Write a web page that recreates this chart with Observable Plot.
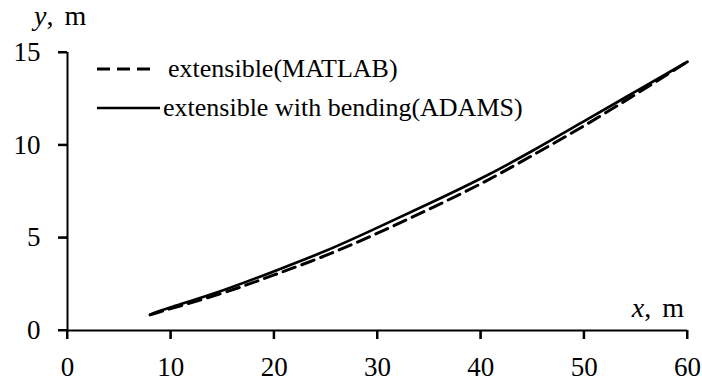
<!DOCTYPE html>
<html>
<head>
<meta charset="utf-8">
<script src="https://cdn.jsdelivr.net/npm/d3@7"></script>
<script src="https://cdn.jsdelivr.net/npm/@observablehq/plot@0.6"></script>
<style>
  html, body { margin: 0; padding: 0; background: white; }
</style>
</head>
<body>
<div id="chart"></div>
<script>
const xValues = [8, 10, 15, 20, 25, 30, 35, 40, 45, 50, 55, 60];
const matlabY = [0.84, 1.18, 2.02, 3.0, 4.05, 5.25, 6.55, 7.92, 9.45, 11.05, 12.75, 14.5];
const adamsY  = [0.86, 1.25, 2.16, 3.2, 4.3, 5.55, 6.85, 8.2, 9.7, 11.3, 12.9, 14.5];
const xTicks = [0, 10, 20, 30, 40, 50, 60];
const yTicks = [0, 5, 10, 15];
const seriesNames = ["extensible(MATLAB)", "extensible with bending(ADAMS)"];

const matlab = xValues.map((x, i) => ({x, y: matlabY[i]}));
const adams = xValues.map((x, i) => ({x, y: adamsY[i]}));

const font = "'Liberation Serif', 'Times New Roman', serif";

const plot = Plot.plot({
  width: 702,
  height: 381,
  marginLeft: 67,
  marginRight: 15,
  marginTop: 52,
  marginBottom: 51,
  x: {domain: [0, 60]},
  y: {domain: [0, 15]},
  style: {fontFamily: font, fontSize: "27px", color: "black", background: "white"},
  marks: [
    Plot.axisX({ticks: xTicks, tickSize: 9, tickPadding: 17, label: null, fontSize: 27, strokeWidth: 2}),
    Plot.axisY({ticks: yTicks, tickSize: 9, tickPadding: 18, label: null, fontSize: 27, strokeWidth: 2}),
    Plot.ruleY([0], {strokeWidth: 2}),
    Plot.ruleX([0], {strokeWidth: 2}),
    Plot.line(matlab, {x: "x", y: "y", curve: "natural", stroke: "black", strokeWidth: 3, strokeDasharray: "13,7"}),
    Plot.line(adams, {x: "x", y: "y", curve: "natural", stroke: "black", strokeWidth: 2.7})
  ]
});

document.getElementById("chart").appendChild(plot);

const svg = d3.select(plot);
const sx = plot.scale("x"), sy = plot.scale("y");
const x0 = sx.apply(0), y0 = sy.apply(0);

// tick marks drawn from the scales (2px, matching the axis lines)
const ticks = svg.append("g").attr("stroke", "black").attr("stroke-width", 2);
xTicks.forEach(t => {
  ticks.append("line").attr("x1", sx.apply(t)).attr("x2", sx.apply(t))
    .attr("y1", y0).attr("y2", y0 + 9);
});
yTicks.forEach(t => {
  ticks.append("line").attr("x1", x0 - 9).attr("x2", x0)
    .attr("y1", sy.apply(t)).attr("y2", sy.apply(t));
});

// axis labels
const yl = svg.append("text")
  .attr("x", x0 - 33).attr("y", sy.apply(15) - 27)
  .attr("text-anchor", "start")
  .attr("font-family", font).attr("font-size", 28).attr("fill", "black");
yl.append("tspan").attr("font-style", "italic").text("y");
yl.append("tspan").text(",");
yl.append("tspan").attr("dx", 11).text("m");

const xl = svg.append("text")
  .attr("x", sx.apply(60) - 3).attr("y", y0 - 13)
  .attr("text-anchor", "end")
  .attr("font-family", font).attr("font-size", 28).attr("fill", "black");
xl.append("tspan").attr("font-style", "italic").text("x");
xl.append("tspan").text(",");
xl.append("tspan").attr("dx", 11).text("m");

// legend
const lx = x0 + 30;
const legendRows = [
  {name: seriesNames[0], y: 69, dash: "13,7", w: 3, len: 53, tx: 168},
  {name: seriesNames[1], y: 108, dash: null, w: 2.5, len: 63, tx: 163}
];
legendRows.forEach(r => {
  const ln = svg.append("line")
    .attr("x1", lx).attr("x2", lx + r.len)
    .attr("y1", r.y).attr("y2", r.y)
    .attr("stroke", "black").attr("stroke-width", r.w);
  if (r.dash) ln.attr("stroke-dasharray", r.dash);
  svg.append("text")
    .attr("x", r.tx).attr("y", r.y + 8)
    .attr("text-anchor", "start")
    .attr("font-family", font).attr("font-size", 26).attr("fill", "black")
    .text(r.name);
});
</script>
</body>
</html>
